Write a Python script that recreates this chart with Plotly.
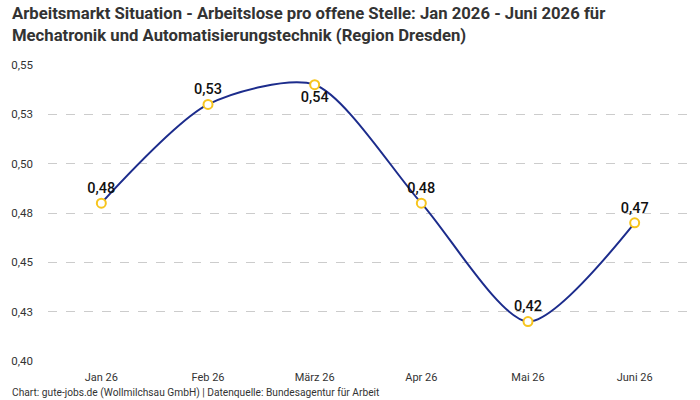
import plotly.graph_objects as go

months = ["Jan 26", "Feb 26", "März 26", "Apr 26", "Mai 26", "Juni 26"]
values = [0.48, 0.53, 0.54, 0.48, 0.42, 0.47]
labels = ["0,48", "0,53", "0,54", "0,48", "0,42", "0,47"]
label_pos = ["top center", "top center", "bottom center", "top center", "top center", "top center"]
tick_vals = [0.40, 0.425, 0.45, 0.475, 0.50, 0.525, 0.55]
tick_text = ["0,40", "0,43", "0,45", "0,48", "0,50", "0,53", "0,55"]

title = ("<b>Arbeitsmarkt Situation - Arbeitslose pro offene Stelle: Jan 2026 - Juni 2026 für<br>"
         "Mechatronik und Automatisierungstechnik (Region Dresden)</b>")
footer = "Chart: gute-jobs.de (Wollmilchsau GmbH) | Datenquelle: Bundesagentur für Arbeit"

PH = 296.0  # plot height in px, for paper-coordinate conversions

fig = go.Figure()
fig.add_trace(go.Scatter(
    x=months, y=values, mode="lines+markers+text",
    line=dict(color="#1c2c8c", width=2, shape="spline", smoothing=0.75),
    marker=dict(size=9, color="white", line=dict(color="#f7c51e", width=2)),
    text=labels, textposition=label_pos,
    textfont=dict(family="Roboto", size=14.5, color="#111111", weight=500),
    cliponaxis=False, hoverinfo="skip",
))

fig.update_layout(
    width=700, height=400,
    margin=dict(l=48, r=12, t=65, b=39),
    paper_bgcolor="white", plot_bgcolor="white",
    showlegend=False,
    xaxis=dict(range=[-0.5, 5.5], showgrid=False, showline=False, zeroline=False, ticks="",
               ticklabelstandoff=8,
               tickfont=dict(family="Roboto", size=11, color="#333333")),
    yaxis=dict(range=[0.40, 0.55], tickvals=tick_vals, ticktext=tick_text,
               showgrid=True, gridcolor="#cccccc", griddash="dash", gridwidth=1,
               zeroline=False, showline=False, ticks="", ticklabelstandoff=14,
               tickfont=dict(family="Roboto", size=11.5, color="#333333")),
    annotations=[
        dict(text=title, x=-38 / 640, xref="paper", xanchor="left",
             y=1 + (65 - 2) / PH, yref="paper", yanchor="top", align="left",
             showarrow=False,
             font=dict(family="Roboto", size=16.7, color="#333333")),
        dict(text=footer, x=-38 / 640, xref="paper", xanchor="left",
             y=-32 / PH, yref="paper", yanchor="middle",
             showarrow=False,
             font=dict(family="Roboto", size=10.2, color="#333333")),
    ],
)

fig.write_html("out.html")
